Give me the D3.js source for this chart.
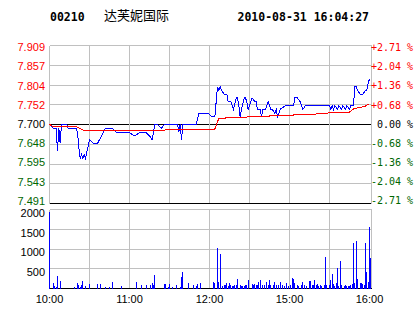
<!DOCTYPE html>
<meta charset="utf-8">
<style>
body { margin: 0; background: #fff; }
svg { display: block; }
.lbl { font-family: "Liberation Sans", Arial, sans-serif; font-size: 11px; }
.pct { font-family: "DejaVu Sans Mono", monospace; font-size: 10px; white-space: pre; }
.head { font-family: "DejaVu Sans Mono", monospace; font-size: 11.5px; font-weight: bold; }
.name { font-family: "Noto Sans CJK SC", sans-serif; font-size: 13px; }
</style>
<body>
<script src="https://cdn.jsdelivr.net/npm/d3@7"></script>
<script>

var width = 414, height = 314;

// header
var stockCode = "00210", stockName = "达芙妮国际", stamp = "2010-08-31 16:04:27";
var prevClose = 7.700, maxPct = 0.0271;

// axis labels
var priceTicks = ["7.909", "7.857", "7.804", "7.752", "7.700", "7.648", "7.595", "7.543", "7.491"];
var pctTicks = ["+2.71 %", "+2.04 %", "+1.36 %", "+0.68 %", " 0.00 %", "-0.68 %", "-1.36 %", "-2.04 %", "-2.71 %"];
var volTicks = [500, 1000, 1500, 2000];
var timeTicks = ["10:00", "11:00", "12:00", "15:00", "16:00"];
var gridTimes = ["10:30", "11:00", "11:30", "12:00", "14:30", "15:00", "15:30"];

// last price (blue)
var priceTimes = ["10:00","10:03","10:05","10:06","10:07","10:08","10:09","10:13","10:14","10:20",
  "10:21","10:22","10:23","10:24","10:25","10:26","10:27","10:30","10:33","10:36",
  "10:42","10:47","10:50","10:55","10:59","11:04","11:08","11:12","11:15","11:17",
  "11:19","11:21","11:24","11:26","11:36","11:37","11:38","11:39","11:40","11:50",
  "11:52","11:59","12:02","12:04","12:05","12:06","12:07","12:08","12:09","12:11",
  "12:13","12:14","12:16","12:18","12:20","12:21","12:22","12:23","12:24","12:26",
  "12:27","12:28","12:29","14:30","14:31","14:32","14:34","14:35","14:36","14:38",
  "14:39","14:40","14:42","14:44","14:45","14:46","14:47","14:49","14:50","14:51",
  "14:53","14:57","15:03","15:04","15:06","15:08","15:10","15:12","15:30","15:31",
  "15:32","15:33","15:34","15:36","15:37","15:39","15:40","15:42","15:43","15:45",
  "15:46","15:48","15:49","15:50","15:51","15:53","15:55","15:57","15:58","15:59","16:00"];
var priceValues = [7.70,7.69,7.69,7.63,7.69,7.65,7.70,7.70,7.69,7.69,
  7.68,7.64,7.61,7.62,7.61,7.62,7.61,7.66,7.65,7.65,
  7.69,7.69,7.68,7.68,7.68,7.67,7.68,7.68,7.67,7.66,
  7.70,7.70,7.69,7.70,7.70,7.68,7.70,7.66,7.70,7.70,
  7.73,7.73,7.72,7.72,7.76,7.80,7.79,7.80,7.79,7.78,
  7.78,7.76,7.76,7.74,7.77,7.77,7.75,7.72,7.74,7.77,
  7.77,7.76,7.74,7.75,7.76,7.77,7.76,7.76,7.74,7.74,
  7.72,7.74,7.74,7.76,7.75,7.74,7.74,7.73,7.74,7.72,
  7.74,7.75,7.75,7.77,7.77,7.76,7.74,7.75,7.75,7.74,
  7.75,7.74,7.75,7.74,7.75,7.74,7.75,7.74,7.75,7.74,
  7.75,7.75,7.80,7.80,7.79,7.78,7.78,7.79,7.79,7.81,7.82];

// average price (red)
var avgTimes = ["10:00","10:03","10:20","10:24","10:27","11:26","11:27","12:04","12:07","12:20",
  "14:30","14:44","14:46","15:03","15:04","15:26","15:27","15:36","15:45","15:48",
  "15:51","15:56","16:00"];
var avgValues = [7.700,7.694,7.694,7.687,7.683,7.683,7.687,7.688,7.716,7.719,
  7.720,7.721,7.724,7.725,7.727,7.728,7.730,7.732,7.733,7.741,
  7.744,7.747,7.755];

// volume per minute
var volTimes = ["10:00","10:03","10:04","10:05","10:06","10:08","10:19","10:21","10:22","10:23",
  "10:24","10:25","10:27","10:30","10:36","10:38","10:42","10:45","10:47","10:54",
  "11:05","11:09","11:13","11:16","11:17","11:18","11:19","11:26","11:27","11:29",
  "11:30","11:32","11:35","11:38","11:39","11:40","11:44","11:48","11:50","11:51",
  "11:53","12:03","12:04","12:06","12:07","12:08","12:10","12:11","12:12","12:13",
  "12:14","12:15","12:16","12:17","12:18","12:19","12:20","12:21","12:23","12:24",
  "12:25","12:26","12:27","12:28","12:29","14:32","14:33","14:34","14:35","14:36",
  "14:37","14:38","14:40","14:41","14:43","14:44","14:45","14:46","14:48","14:49",
  "14:50","14:52","14:53","14:55","14:56","14:58","14:59","15:01","15:02","15:03",
  "15:04","15:06","15:07","15:09","15:10","15:11","15:13","15:15","15:16","15:17",
  "15:18","15:19","15:20","15:21","15:22","15:23","15:24","15:26","15:27","15:28",
  "15:30","15:31","15:32","15:33","15:34","15:35","15:36","15:37","15:38","15:39",
  "15:41","15:42","15:43","15:44","15:45","15:46","15:47","15:48","15:49","15:50",
  "15:51","15:53","15:54","15:55","15:56","15:57","15:58","15:59","16:00","16:01"];
var volValues = [1940,127,68,42,321,195,42,127,86,42,
  95,195,68,118,118,118,42,42,169,68,
  169,95,95,95,136,95,346,118,118,42,
  118,42,95,42,296,422,136,95,68,118,
  136,168,143,1035,168,870,58,84,84,143,
  58,143,84,58,58,84,84,253,84,58,
  58,58,84,84,203,109,84,126,84,84,
  168,203,84,84,168,84,203,84,84,168,
  84,84,168,84,58,143,58,84,278,236,
  143,84,58,84,168,84,58,185,185,84,
  84,203,84,109,58,84,58,84,800,84,
  84,210,362,109,58,143,515,58,700,84,
  58,84,58,58,58,84,126,1150,143,1210,
  253,143,143,109,84,1150,415,168,1560,760];

// 10:00-12:30 then 14:30-16:00, one step per minute
function sessionMinute(t) {
  var p = t.split(":"), v = +p[0] * 60 + +p[1];
  return v <= 750 ? v - 600 : v - 870 + 150;
}

var red = "#ff0000", green = "#006600", grid = "#c0c0c0";

var svg = d3.select("body").append("svg")
    .attr("width", width)
    .attr("height", height);

var x = d3.scaleLinear().domain([0, 240]).range([49.5, 369.5]);
var yDomain = [prevClose * (1 - maxPct), prevClose * (1 + maxPct)];
var y = d3.scaleLinear().domain(yDomain).range([203.5, 45.5]);
var yLab = d3.scaleLinear().domain(yDomain).range([200.5, 47.5]);
var v = d3.scaleLinear().domain([0, 2000]).range([288.5, 209.5]);
var xLeft = 49.5, xRight = 371.5;

// header
svg.append("text").attr("class", "head").attr("x", 50).attr("y", 21).text(stockCode);
svg.append("text").attr("class", "name").attr("x", 104).attr("y", 20).text(stockName);
svg.append("text").attr("class", "head").attr("x", 237.5).attr("y", 21).text(stamp);

var g = svg.append("g").attr("shape-rendering", "crispEdges");

// price panel grid
g.selectAll("line.hp")
    .data(priceTicks)
  .enter().append("line")
    .attr("x1", xLeft).attr("x2", xRight)
    .attr("y1", function(d) { return y(+d); })
    .attr("y2", function(d) { return y(+d); })
    .attr("stroke", function(d, i) { return (i == 4 || i == 8) ? "#000" : grid; });

g.selectAll("line.vp")
    .data(gridTimes)
  .enter().append("line")
    .attr("x1", function(d) { return x(sessionMinute(d)); })
    .attr("x2", function(d) { return x(sessionMinute(d)); })
    .attr("y1", y.range()[1]).attr("y2", y.range()[0] - 1)
    .attr("stroke", grid);

// volume panel grid
g.selectAll("line.hv")
    .data(volTicks)
  .enter().append("line")
    .attr("x1", xLeft).attr("x2", xRight)
    .attr("y1", function(d) { return v(d); })
    .attr("y2", function(d) { return v(d); })
    .attr("stroke", grid);

g.selectAll("line.vv")
    .data(gridTimes)
  .enter().append("line")
    .attr("x1", function(d) { return x(sessionMinute(d)); })
    .attr("x2", function(d) { return x(sessionMinute(d)); })
    .attr("y1", v.range()[1]).attr("y2", v.range()[0])
    .attr("stroke", grid);

// borders
[[y.range()[1], y.range()[0]], [v.range()[1], v.range()[0]]].forEach(function(r) {
  g.append("line").attr("x1", xLeft).attr("x2", xLeft).attr("y1", r[0]).attr("y2", r[1]).attr("stroke", grid);
  g.append("line").attr("x1", xRight).attr("x2", xRight).attr("y1", r[0]).attr("y2", r[1]).attr("stroke", grid);
});
g.append("line").attr("x1", xLeft).attr("x2", xRight + 0.5)
    .attr("y1", v(0)).attr("y2", v(0)).attr("stroke", "#000");

// volume bars
g.selectAll("rect.vol")
    .data(volValues)
  .enter().append("rect")
    .attr("x", function(d, i) { return Math.round(x(sessionMinute(volTimes[i])) - 0.5); })
    .attr("width", 1)
    .attr("y", function(d) { return v(d); })
    .attr("height", function(d) { return v(0) - v(d); })
    .attr("fill", "#0000ff");

// price + average lines
var line = d3.line()
    .x(function(d) { return x(sessionMinute(d[0])); })
    .y(function(d) { return y(d[1]); });

g.append("path")
    .attr("d", line(d3.zip(priceTimes, priceValues)))
    .attr("fill", "none").attr("stroke", "#0000ff");

g.append("path")
    .attr("d", line(d3.zip(avgTimes, avgValues)))
    .attr("fill", "none").attr("stroke", red);

// left price labels
svg.selectAll("text.pl")
    .data(priceTicks)
  .enter().append("text")
    .attr("class", "lbl")
    .attr("x", 45)
    .attr("y", function(d) { return yLab(+d); })
    .attr("dy", "0.36em")
    .attr("text-anchor", "end")
    .attr("fill", function(d, i) { return i < 4 ? red : (i == 4 ? "#000" : green); })
    .text(function(d) { return d; });

// right percent labels
svg.selectAll("text.pr")
    .data(pctTicks)
  .enter().append("text")
    .attr("class", "pct")
    .attr("x", 371)
    .attr("y", function(d, i) { return yLab(+priceTicks[i]); })
    .attr("dy", "0.36em")
    .attr("fill", function(d, i) { return i < 4 ? red : (i == 4 ? "#000" : green); })
    .text(function(d) { return d; });

// volume labels
svg.selectAll("text.vl")
    .data(volTicks)
  .enter().append("text")
    .attr("class", "lbl")
    .attr("x", 45)
    .attr("y", function(d) { return v(d) + 3.5; })
    .attr("dy", "0.36em")
    .attr("text-anchor", "end")
    .attr("fill", "#000")
    .text(function(d) { return d; });

// time labels
svg.selectAll("text.tl")
    .data(timeTicks)
  .enter().append("text")
    .attr("class", "lbl")
    .attr("x", function(d) { return x(sessionMinute(d)); })
    .attr("y", 303)
    .attr("text-anchor", "middle")
    .attr("fill", "#000")
    .text(function(d) { return d; });

</script>
